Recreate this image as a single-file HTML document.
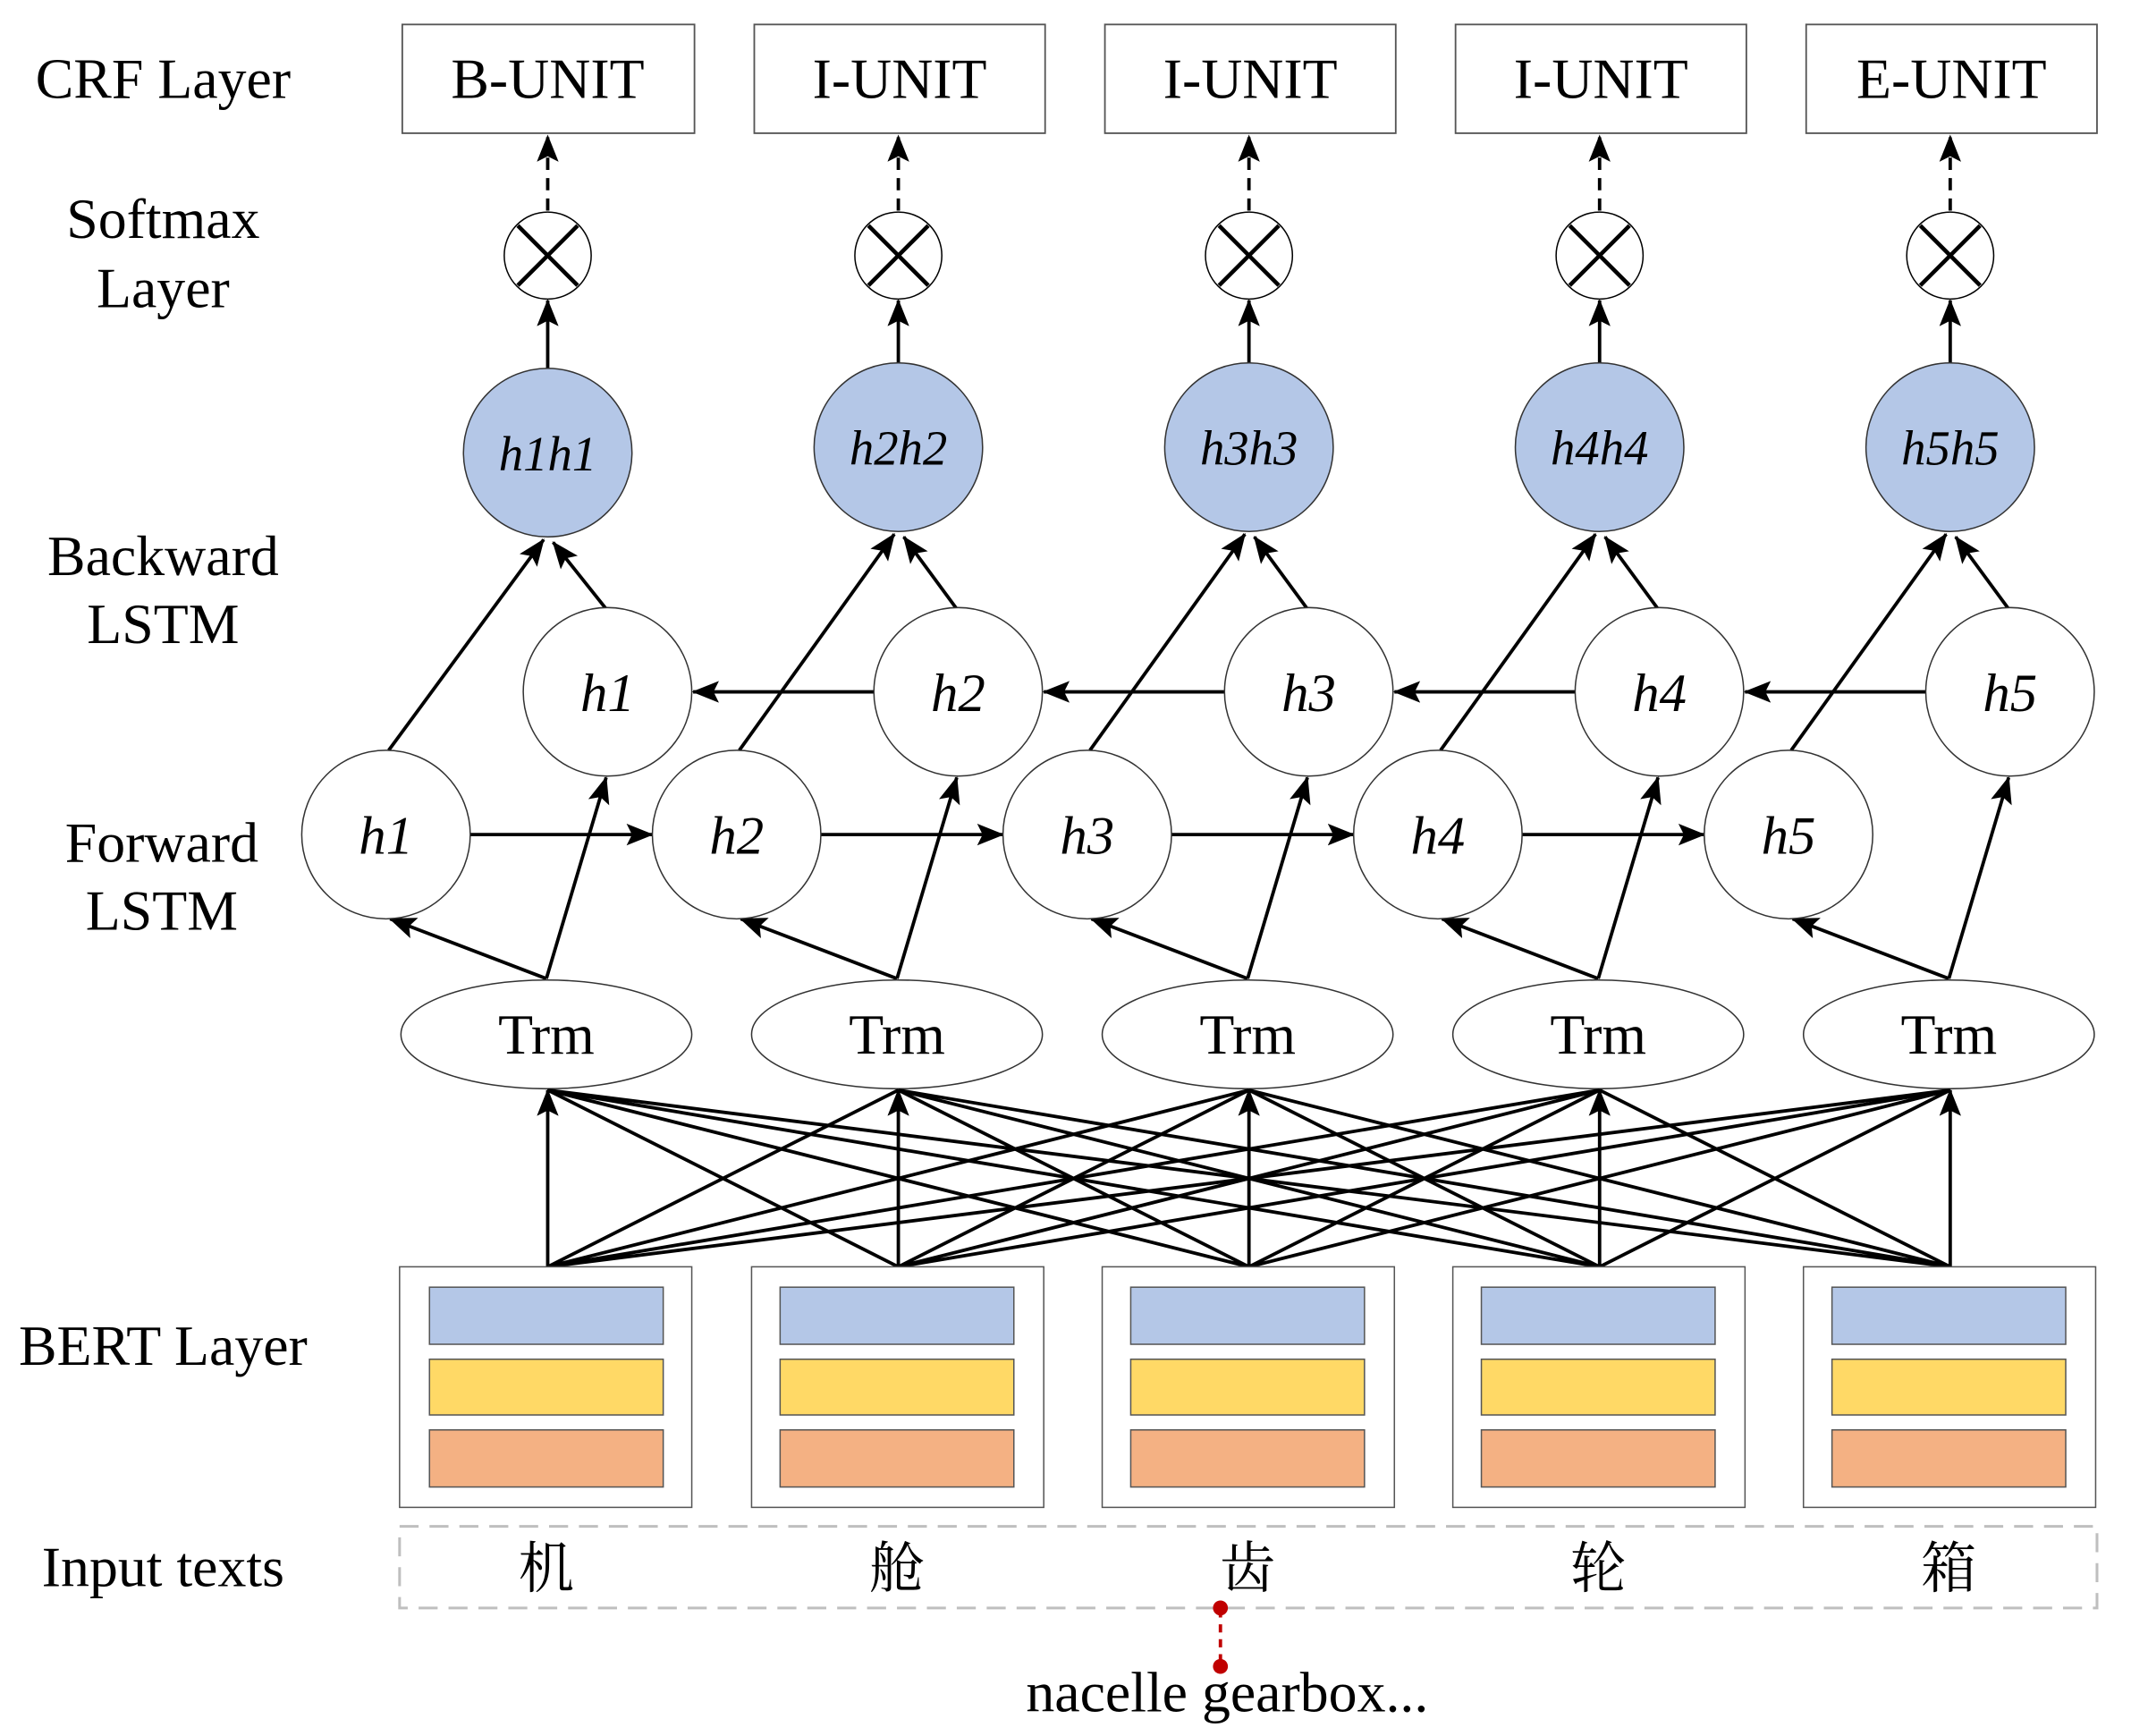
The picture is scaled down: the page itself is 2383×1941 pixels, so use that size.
<!DOCTYPE html>
<html><head><meta charset="utf-8"><style>html,body{margin:0;padding:0;background:#fff}svg{display:block}</style></head><body>
<svg width="2383" height="1941" viewBox="0 0 1568 1277.2" xmlns="http://www.w3.org/2000/svg" font-family="'Liberation Serif','Noto Serif CJK SC',serif">
<defs>
<marker id="a" markerUnits="userSpaceOnUse" markerWidth="22" markerHeight="18" refX="19" refY="8" orient="auto"><path d="M0,0 L20,8 L0,16 L4,8 Z" fill="#000"/></marker>
</defs>
<rect width="1568" height="1278" fill="#fff"/>
<g font-size="42" text-anchor="middle" fill="#000">
<text x="120" y="72">CRF Layer</text>
<text x="120" y="175">Softmax</text><text x="120" y="226">Layer</text>
<text x="120" y="423">Backward</text><text x="120" y="473">LSTM</text>
<text x="119" y="634">Forward</text><text x="119" y="684">LSTM</text>
<text x="120" y="1004">BERT Layer</text>
<text x="120" y="1167">Input texts</text>
</g>
<g fill="#fff" stroke="#555" stroke-width="1.2">
<rect x="296" y="18" width="215" height="80"/><rect x="555" y="18" width="214" height="80"/><rect x="813" y="18" width="214" height="80"/><rect x="1071" y="18" width="214" height="80"/><rect x="1329" y="18" width="214" height="80"/>
</g>
<g font-size="42" text-anchor="middle">
<text x="403" y="72">B-UNIT</text><text x="662" y="72">I-UNIT</text><text x="920" y="72">I-UNIT</text><text x="1178" y="72">I-UNIT</text><text x="1436" y="72">E-UNIT</text>
</g>
<g stroke="#000" stroke-width="2.5" fill="none">
<g stroke-dasharray="9,6">
<line x1="403" y1="155" x2="403" y2="100" marker-end="url(#a)"/><line x1="661" y1="155" x2="661" y2="100" marker-end="url(#a)"/><line x1="919" y1="155" x2="919" y2="100" marker-end="url(#a)"/><line x1="1177" y1="155" x2="1177" y2="100" marker-end="url(#a)"/><line x1="1435" y1="155" x2="1435" y2="100" marker-end="url(#a)"/>
</g>
<line x1="403" y1="271" x2="403" y2="221" marker-end="url(#a)"/><line x1="661" y1="267" x2="661" y2="221" marker-end="url(#a)"/><line x1="919" y1="267" x2="919" y2="221" marker-end="url(#a)"/><line x1="1177" y1="267" x2="1177" y2="221" marker-end="url(#a)"/><line x1="1435" y1="267" x2="1435" y2="221" marker-end="url(#a)"/>
</g>
<g stroke="#000" stroke-width="1" fill="#fff">
<circle cx="403" cy="188" r="32"/><circle cx="661" cy="188" r="32"/><circle cx="919" cy="188" r="32"/><circle cx="1177" cy="188" r="32"/><circle cx="1435" cy="188" r="32"/>
</g>
<g stroke="#000" stroke-width="3">
<path d="M381,166 L425,210 M425,166 L381,210"/><path d="M639,166 L683,210 M683,166 L639,210"/><path d="M897,166 L941,210 M941,166 L897,210"/><path d="M1155,166 L1199,210 M1199,166 L1155,210"/><path d="M1413,166 L1457,210 M1457,166 L1413,210"/>
</g>
<g fill="#b4c7e7" stroke="#333" stroke-width="1">
<circle cx="403" cy="333" r="62"/><circle cx="661" cy="329" r="62"/><circle cx="919" cy="329" r="62"/><circle cx="1177" cy="329" r="62"/><circle cx="1435" cy="329" r="62"/>
</g>
<g font-size="36" font-style="italic" text-anchor="middle">
<text x="403" y="346">h1h1</text><text x="661" y="342">h2h2</text><text x="919" y="342">h3h3</text><text x="1177" y="342">h4h4</text><text x="1435" y="342">h5h5</text>
</g>
<g stroke="#000" stroke-width="2.5" fill="none" marker-end="url(#a)">
<line x1="286" y1="552" x2="400" y2="397"/><line x1="544" y1="552" x2="658" y2="393"/><line x1="802" y1="552" x2="916" y2="393"/><line x1="1060" y1="552" x2="1174" y2="393"/><line x1="1318" y1="552" x2="1432" y2="393"/>
<line x1="446" y1="448" x2="407" y2="399"/><line x1="704" y1="448" x2="665" y2="395"/><line x1="962" y1="448" x2="923" y2="395"/><line x1="1220" y1="448" x2="1181" y2="395"/><line x1="1478" y1="448" x2="1439" y2="395"/>
<line x1="346" y1="614" x2="480" y2="614"/><line x1="604" y1="614" x2="738" y2="614"/><line x1="862" y1="614" x2="996" y2="614"/><line x1="1120" y1="614" x2="1254" y2="614"/>
<line x1="643" y1="509" x2="510" y2="509"/><line x1="901" y1="509" x2="768" y2="509"/><line x1="1159" y1="509" x2="1026" y2="509"/><line x1="1417" y1="509" x2="1284" y2="509"/>
<line x1="402" y1="720" x2="287" y2="676"/><line x1="660" y1="720" x2="545" y2="676"/><line x1="918" y1="720" x2="803" y2="676"/><line x1="1176" y1="720" x2="1061" y2="676"/><line x1="1434" y1="720" x2="1319" y2="676"/>
<line x1="402" y1="720" x2="446" y2="572"/><line x1="660" y1="720" x2="704" y2="572"/><line x1="918" y1="720" x2="962" y2="572"/><line x1="1176" y1="720" x2="1220" y2="572"/><line x1="1434" y1="720" x2="1478" y2="572"/>
</g>
<g fill="#fff" stroke="#333" stroke-width="1">
<circle cx="447" cy="509" r="62"/><circle cx="705" cy="509" r="62"/><circle cx="963" cy="509" r="62"/><circle cx="1221" cy="509" r="62"/><circle cx="1479" cy="509" r="62"/>
<circle cx="284" cy="614" r="62"/><circle cx="542" cy="614" r="62"/><circle cx="800" cy="614" r="62"/><circle cx="1058" cy="614" r="62"/><circle cx="1316" cy="614" r="62"/>
</g>
<g font-size="40" font-style="italic" text-anchor="middle">
<text x="447" y="523">h1</text><text x="705" y="523">h2</text><text x="963" y="523">h3</text><text x="1221" y="523">h4</text><text x="1479" y="523">h5</text>
<text x="284" y="628">h1</text><text x="542" y="628">h2</text><text x="800" y="628">h3</text><text x="1058" y="628">h4</text><text x="1316" y="628">h5</text>
</g>
<g fill="#fff" stroke="#333" stroke-width="1">
<ellipse cx="402" cy="761" rx="107" ry="40"/><ellipse cx="660" cy="761" rx="107" ry="40"/><ellipse cx="918" cy="761" rx="107" ry="40"/><ellipse cx="1176" cy="761" rx="107" ry="40"/><ellipse cx="1434" cy="761" rx="107" ry="40"/>
</g>
<g font-size="42" text-anchor="middle">
<text x="402" y="775">Trm</text><text x="660" y="775">Trm</text><text x="918" y="775">Trm</text><text x="1176" y="775">Trm</text><text x="1434" y="775">Trm</text>
</g>
<g stroke="#000" stroke-width="2.5" fill="none">
<path d="M403,932 L661,802 M403,932 L919,802 M403,932 L1177,802 M403,932 L1435,802"/>
<path d="M661,932 L403,802 M661,932 L919,802 M661,932 L1177,802 M661,932 L1435,802"/>
<path d="M919,932 L403,802 M919,932 L661,802 M919,932 L1177,802 M919,932 L1435,802"/>
<path d="M1177,932 L403,802 M1177,932 L661,802 M1177,932 L919,802 M1177,932 L1435,802"/>
<path d="M1435,932 L403,802 M1435,932 L661,802 M1435,932 L919,802 M1435,932 L1177,802"/>
<g marker-end="url(#a)">
<line x1="403" y1="932" x2="403" y2="802"/><line x1="661" y1="932" x2="661" y2="802"/><line x1="919" y1="932" x2="919" y2="802"/><line x1="1177" y1="932" x2="1177" y2="802"/><line x1="1435" y1="932" x2="1435" y2="802"/>
</g>
</g>
<g stroke="#555" stroke-width="1">
<g fill="#fff"><rect x="294" y="932" width="215" height="177"/><rect x="553" y="932" width="215" height="177"/><rect x="811" y="932" width="215" height="177"/><rect x="1069" y="932" width="215" height="177"/><rect x="1327" y="932" width="215" height="177"/></g>
<g fill="#b4c7e7"><rect x="316" y="947" width="172" height="42"/><rect x="574" y="947" width="172" height="42"/><rect x="832" y="947" width="172" height="42"/><rect x="1090" y="947" width="172" height="42"/><rect x="1348" y="947" width="172" height="42"/></g>
<g fill="#ffd966"><rect x="316" y="1000" width="172" height="41"/><rect x="574" y="1000" width="172" height="41"/><rect x="832" y="1000" width="172" height="41"/><rect x="1090" y="1000" width="172" height="41"/><rect x="1348" y="1000" width="172" height="41"/></g>
<g fill="#f4b183"><rect x="316" y="1052" width="172" height="42"/><rect x="574" y="1052" width="172" height="42"/><rect x="832" y="1052" width="172" height="42"/><rect x="1090" y="1052" width="172" height="42"/><rect x="1348" y="1052" width="172" height="42"/></g>
</g>
<rect x="294" y="1123" width="1249" height="60" fill="none" stroke="#bfbfbf" stroke-width="2" stroke-dasharray="14,8"/>
<g font-size="41" text-anchor="middle" font-family="'Noto Serif CJK SC','Noto Sans CJK SC',serif">
<text x="402" y="1168">机</text><text x="660" y="1168">舱</text><text x="918" y="1168">齿</text><text x="1176" y="1168">轮</text><text x="1434" y="1168">箱</text>
</g>
<line x1="898" y1="1184" x2="898" y2="1226" stroke="#c00000" stroke-width="2.5" stroke-dasharray="6,5"/>
<circle cx="898" cy="1183" r="5.5" fill="#c00000"/><circle cx="898" cy="1226" r="5.5" fill="#c00000"/>
<text x="903" y="1259" font-size="42" text-anchor="middle">nacelle gearbox...</text>
</svg>
</body></html>
